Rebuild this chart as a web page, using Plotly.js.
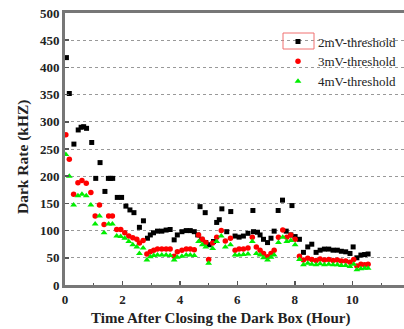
<!DOCTYPE html>
<html>
<head>
<meta charset="utf-8">
<script src="https://cdn.plot.ly/plotly-3.0.1.min.js"></script>
<style>
html,body{margin:0;padding:0;overflow:hidden;background:#fff;width:404px;height:329px;}
#chart{width:420px;height:329px;}
</style>
</head>
<body>
<div id="chart"></div>
<script>
// 2mV-threshold (black)
var time2mV = [0.05,0.15,0.31,0.46,0.56,0.65,0.75,0.93,1.07,1.22,1.39,1.51,1.58,1.66,1.82,1.97,2.12,2.26,2.40,2.59,2.73,2.87,2.97,3.08,3.22,3.37,3.52,3.66,3.80,3.91,4.07,4.22,4.36,4.50,4.62,4.70,4.76,4.88,4.90,5.02,5.17,5.28,5.37,5.46,5.63,5.77,5.92,6.06,6.21,6.37,6.54,6.56,6.70,6.79,6.91,7.05,7.17,7.28,7.42,7.57,7.70,7.86,7.90,8.01,8.16,8.30,8.45,8.59,8.74,8.88,9.03,9.18,9.33,9.48,9.62,9.77,9.92,10.03,10.16,10.30,10.43,10.55];
var rate2mV = [418,352,259,285,290,291,288,262,196,225,172,196,196,196,161,161,145,138,133,106,118,86,92,96,99,99,101,102,83,92,98,100,100,98,92,144,84,133,78,74,80,115,120,140,98,135,90,88,90,95,137,98,97,92,84,78,86,99,137,156,99,92,146,89,84,60,70,75,60,64,66,66,64,64,62,61,58,70,50,55,56,57];

// 3mV / 4mV thresholds share time stamps
var timeRG = [0.03,0.15,0.30,0.45,0.59,0.74,0.90,1.05,1.20,1.36,1.52,1.65,1.80,1.94,2.08,2.22,2.36,2.50,2.59,2.72,2.85,2.97,3.09,3.22,3.37,3.52,3.66,3.80,3.91,4.07,4.22,4.36,4.50,4.65,4.78,4.90,5.00,5.14,5.28,5.44,5.58,5.76,5.92,6.06,6.21,6.37,6.52,6.66,6.79,6.91,7.05,7.17,7.28,7.43,7.58,7.72,7.86,8.01,8.16,8.30,8.45,8.59,8.74,8.88,9.03,9.18,9.33,9.48,9.62,9.77,9.92,10.05,10.16,10.30,10.43,10.55];
var rate3mV = [276,231,167,188,192,187,170,127,147,111,127,127,102,102,96,90,87,84,77,82,57,61,64,66,66,66,66,53,61,64,66,66,65,92,84,78,47,77,88,100,81,86,64,66,66,68,88,70,64,58,52,58,64,88,101,88,92,84,53,46,49,47,45,48,46,47,45,46,44,44,42,47,35,38,37,38];
var rate4mV = [240,200,147,164,167,164,147,112,127,96,112,112,90,89,86,80,74,70,58,68,46,52,54,55,55,55,54,46,51,53,55,55,54,80,74,70,40,67,80,90,70,74,55,55,56,57,80,58,55,50,46,51,55,78,88,80,82,74,47,37,40,38,37,39,37,38,37,37,36,36,34,38,28,30,31,31];

var seriesNames = ['2mV-threshold','3mV-threshold','4mV-threshold'];
var xTickVals = [0,2,4,6,8,10];
var xTickText = ['0','2','4','6','8','10'];
var xTitle = 'Time After Closing the Dark Box (Hour)';
var yTitle = 'Dark Rate (kHZ)';

var serif = 'Liberation Serif, Times New Roman, serif';

var traces = [
  {x: time2mV, y: rate2mV, name: seriesNames[0], type: 'scatter', mode: 'markers',
   marker: {symbol: 'square', size: 5, color: '#000000'}},
  {x: timeRG, y: rate3mV, name: seriesNames[1], type: 'scatter', mode: 'markers',
   marker: {symbol: 'circle', size: 5.5, color: '#ff0000'}},
  {x: timeRG, y: rate4mV, name: seriesNames[2], type: 'scatter', mode: 'markers',
   marker: {symbol: 'triangle-up', size: 6, color: '#00ee00'}}
];

// plot area: left 65px, width 339px (0..11.8 h), top 13px, height 272px
var L = 65, W = 339, T = 13, H = 272;
function px(xp){ return (xp - L) / W; }
function py(yp){ return (T + H - yp) / H; }

var layout = {
  width: 420, height: 329,
  margin: {l: L, r: 420 - L - W, t: T, b: 329 - T - H},
  paper_bgcolor: '#ffffff', plot_bgcolor: '#ffffff',
  showlegend: true,
  legend: {x: px(278), y: py(26.5), xanchor: 'left', yanchor: 'top',
           bgcolor: 'rgba(0,0,0,0)', borderwidth: 0,
           font: {family: serif, size: 13, color: '#222'},
           tracegroupgap: 0, itemsizing: 'trace'},
  xaxis: {
    range: [0, 11.8], tickmode: 'array', tickvals: xTickVals, ticktext: xTickText,
    ticks: 'inside', ticklen: 4, tickwidth: 1.5, tickcolor: '#555',
    minor: {dtick: 1, tick0: 0, ticks: 'inside', ticklen: 2, tickwidth: 1, tickcolor: '#555', showgrid: false},
    showgrid: false, zeroline: false,
    showline: true, linecolor: '#777', linewidth: 3, mirror: true,
    tickfont: {family: serif, size: 13, color: '#222', weight: 'bold'}
  },
  yaxis: {
    range: [0, 500], dtick: 50, tick0: 0,
    ticks: 'inside', ticklen: 4, tickwidth: 1.5, tickcolor: '#555',
    showgrid: true, gridcolor: '#999', griddash: 'dot', gridwidth: 1,
    zeroline: false,
    showline: true, linecolor: '#777', linewidth: 3, mirror: true,
    tickfont: {family: serif, size: 13, color: '#222', weight: 'bold'}
  },
  annotations: [
    {text: xTitle, xref: 'paper', yref: 'paper', x: px(220), y: py(318),
     xanchor: 'center', yanchor: 'middle', showarrow: false,
     font: {family: serif, size: 15, color: '#222', weight: 'bold'}},
    {text: yTitle, xref: 'paper', yref: 'paper', x: px(23), y: py(157),
     xanchor: 'center', yanchor: 'middle', showarrow: false, textangle: -90,
     font: {family: serif, size: 15.5, color: '#222', weight: 'bold'}}
  ],
  shapes: [
    {type: 'rect', xref: 'paper', yref: 'paper',
     x0: px(283), x1: px(314), y0: py(49), y1: py(33),
     line: {color: '#f07070', width: 1}, fillcolor: 'rgba(0,0,0,0)'}
  ]
};

Plotly.newPlot('chart', traces, layout, {staticPlot: true, displayModeBar: false});
</script>
</body>
</html>
